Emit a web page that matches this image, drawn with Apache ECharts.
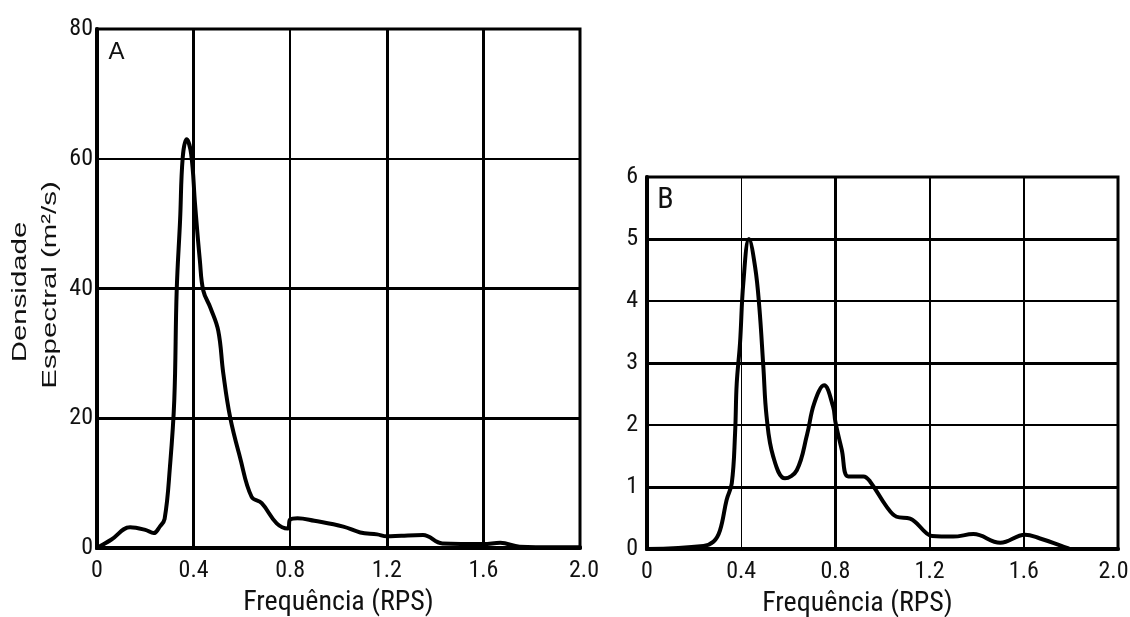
<!DOCTYPE html>
<html>
<head>
<meta charset="utf-8">
<script src="https://cdn.jsdelivr.net/npm/echarts@6/dist/echarts.min.js"></script>
<style>
  html, body { margin: 0; padding: 0; background: #fff; }
  #chart { width: 1130px; height: 617px; }
</style>
</head>
<body>
<div id="chart"></div>
<script>
// Panel A: spectral density (m²/s) against frequency (RPS)
const freqA = [0, 0.06, 0.137, 0.2, 0.235, 0.26, 0.28, 0.302, 0.32, 0.33, 0.344, 0.355, 0.371, 0.39, 0.406, 0.426, 0.44, 0.47, 0.502, 0.523, 0.551, 0.592, 0.64, 0.682, 0.744, 0.79, 0.80, 0.83, 0.9, 1.02, 1.09, 1.16, 1.2, 1.26, 1.35, 1.43, 1.6, 1.67, 1.75, 1.9, 2.0];
const densA = [0, 1.3, 3.2, 2.8, 2.3, 3.3, 4.5, 12.5, 22.8, 39.7, 50.5, 60.2, 63.0, 60.7, 53, 44.3, 39.7, 37, 33.5, 26.9, 20.2, 14.0, 7.9, 6.9, 3.8, 3.0, 4.4, 4.6, 4.2, 3.3, 2.4, 2.1, 1.8, 1.9, 2.0, 0.7, 0.6, 0.8, 0.2, 0.1, 0.1];

// Panel B
const freqB = [0, 0.24, 0.283, 0.31, 0.338, 0.36, 0.374, 0.381, 0.395, 0.409, 0.433, 0.459, 0.477, 0.494, 0.508, 0.536, 0.586, 0.636, 0.68, 0.71, 0.752, 0.79, 0.80, 0.827, 0.855, 0.919, 0.947, 1.018, 1.06, 1.117, 1.188, 1.21, 1.30, 1.386, 1.5, 1.605, 1.669, 1.754, 1.79];
const densB = [0, 0.05, 0.12, 0.3, 0.79, 1.06, 1.87, 2.67, 3.32, 4.29, 5.0, 4.55, 3.9, 2.94, 2.13, 1.49, 1.14, 1.27, 1.85, 2.35, 2.64, 2.3, 2.05, 1.6, 1.17, 1.17, 1.09, 0.68, 0.52, 0.49, 0.25, 0.21, 0.2, 0.24, 0.1, 0.23, 0.17, 0.06, 0.01];

// Tick labels
const freqTicks = ['0', '0.4', '0.8', '1.2', '1.6', '2.0'];
const densTicksA = ['0', '20', '40', '60', '80'];
const densTicksB = ['0', '1', '2', '3', '4', '5', '6'];

// Hand-drawn grid: each rule has its own stroke weight
const vRulesA = [[0.4, 3], [0.8, 2], [1.2, 3], [1.6, 3]];
const hRulesA = [[20, 3], [40, 3], [60, 2]];
const vRulesB = [[0.4, 1], [0.8, 3], [1.2, 2], [1.6, 2]];
const hRulesB = [[1, 3], [2, 2], [3, 3], [4, 2], [5, 3]];

const NARROW = '"Roboto Condensed", "Liberation Sans", Arial, sans-serif';
const REGULAR = '"Liberation Sans", Arial, sans-serif';

function pairs(xs, ys) { return xs.map((x, i) => [x, ys[i]]); }

function rules(vr, hr) {
  return vr.map(([v, w]) => ({ xAxis: v, lineStyle: { width: w } }))
    .concat(hr.map(([v, w]) => ({ yAxis: v, lineStyle: { width: w } })));
}

// endPad nudges the last tick label ("2.0") sideways
function xAxisCfg(gridIndex, namePad, endPad) {
  return {
    type: 'value', gridIndex, min: 0, max: 2, interval: 0.4,
    name: 'Frequência (RPS)', nameLocation: 'middle', nameGap: 41,
    nameTextStyle: { fontFamily: NARROW, fontSize: 28, color: '#111', padding: namePad },
    axisLine: { show: true, lineStyle: { color: '#000', width: 4 } },
    axisTick: { show: false },
    splitLine: { show: false },
    axisLabel: {
      fontFamily: NARROW, fontSize: 24, color: '#111', margin: 11,
      formatter: v => {
        const i = Math.round(v / 0.4);
        return i === freqTicks.length - 1 ? '{end|' + freqTicks[i] + '}' : freqTicks[i];
      },
      rich: { end: { fontFamily: NARROW, fontSize: 24, color: '#111', padding: endPad } }
    }
  };
}

function yAxisCfg(gridIndex, max, interval, ticks, margin) {
  return {
    type: 'value', gridIndex, min: 0, max, interval,
    axisLine: { show: true, lineStyle: { color: '#000', width: 4 } },
    axisTick: { show: false },
    splitLine: { show: false },
    axisLabel: {
      fontFamily: NARROW, fontSize: 24, color: '#111', margin,
      formatter: v => ticks[Math.round(v / interval)]
    }
  };
}

function ruleSeries(idx, vr, hr) {
  return {
    type: 'line', xAxisIndex: idx, yAxisIndex: idx, data: [], silent: true,
    markLine: {
      silent: true, symbol: ['none', 'none'], animation: false,
      label: { show: false },
      lineStyle: { color: '#000', type: 'solid' },
      data: rules(vr, hr)
    }
  };
}

function curveSeries(idx, xs, ys) {
  return {
    type: 'line', xAxisIndex: idx, yAxisIndex: idx,
    data: pairs(xs, ys), showSymbol: false, symbol: 'none',
    smooth: 0.4,
    lineStyle: { color: '#000', width: 4, cap: 'round', join: 'round' },
    z: 5
  };
}

const chart = echarts.init(document.getElementById('chart'), null, { renderer: 'canvas' });
chart.setOption({
  animation: false,
  backgroundColor: '#fff',
  grid: [
    { left: 97, top: 29, width: 483, height: 519, outerBoundsMode: 'none', containLabel: false,
      show: true, borderColor: '#000', borderWidth: 3, backgroundColor: 'transparent' },
    { left: 647, top: 177, width: 471, height: 372, outerBoundsMode: 'none', containLabel: false,
      show: true, borderColor: '#000', borderWidth: 3, backgroundColor: 'transparent' }
  ],
  xAxis: [xAxisCfg(0, [0, 0, 0, 0], [0, 0, 0, 8]), xAxisCfg(1, [0, 50, 0, 0], [0, 9, 0, 0])],
  yAxis: [yAxisCfg(0, 80, 20, densTicksA, 4), yAxisCfg(1, 6, 1, densTicksB, 9)],
  graphic: [
    { type: 'text', x: 20, y: 292, rotation: Math.PI / 2, scaleX: 1.4,
      style: { text: 'Densidade', font: '21px ' + REGULAR, fill: '#111', textAlign: 'center', textVerticalAlign: 'middle' } },
    { type: 'text', x: 50, y: 285, rotation: Math.PI / 2, scaleX: 1.4,
      style: { text: 'Espectral (m²/s)', font: '21px ' + REGULAR, fill: '#111', textAlign: 'center', textVerticalAlign: 'middle' } },
    { type: 'text', x: 116.5, y: 52,
      style: { text: 'A', font: '24px ' + REGULAR, fill: '#111', textAlign: 'center', textVerticalAlign: 'middle' } },
    { type: 'text', x: 665.5, y: 200,
      style: { text: 'B', font: '30px ' + NARROW, fill: '#111', textAlign: 'center', textVerticalAlign: 'middle' } }
  ],
  series: [
    ruleSeries(0, vRulesA, hRulesA),
    ruleSeries(1, vRulesB, hRulesB),
    curveSeries(0, freqA, densA),
    curveSeries(1, freqB, densB)
  ]
});
</script>
</body>
</html>
